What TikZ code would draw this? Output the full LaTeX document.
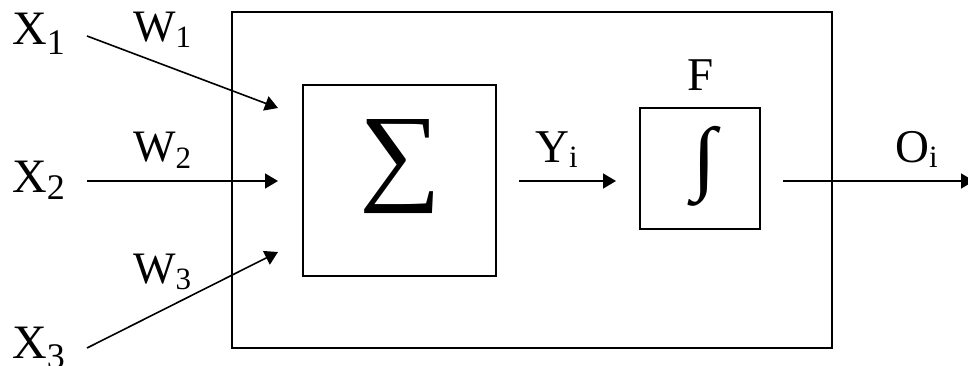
\documentclass[tikz,border=0pt]{standalone}
\usepackage{fontspec}
\setmainfont{Liberation Serif}
\usetikzlibrary{arrows.meta}
\newcommand\mysub[3]{\raisebox{-#1}{\fontsize{#2}{#2}\selectfont #3}}
\begin{document}
\begin{tikzpicture}[x=1pt,y=-1pt,
  frame/.style={draw,line width=2pt,inner sep=0pt},
  conn/.style={line width=1.6pt,-{Triangle[length=13pt,width=15pt]}},
  xlab/.style={anchor=base west,inner sep=0pt,font=\fontsize{48}{48}\selectfont},
  wlab/.style={anchor=base west,inner sep=0pt,font=\fontsize{45}{45}\selectfont},
  ylab/.style={anchor=base west,inner sep=0pt,font=\fontsize{47}{47}\selectfont}]
\useasboundingbox (0,0) rectangle (968,366);
% boxes
\node[frame,minimum width=600pt,minimum height=336pt] (outer) at (532,180) {};
\node[frame,minimum width=193pt,minimum height=191pt] (sum) at (399.5,180.5) {};
\node[frame,minimum width=120pt,minimum height=121pt] (int) at (700,168.5) {};
% symbols
\node[anchor=south west,inner sep=0pt] (sigma) at (359,214) {\resizebox*{82pt}{94pt}{∑}};
\node[anchor=south west,inner sep=0pt] (integ) at (692,207) {\resizebox*{24pt}{80pt}{∫}};
% labels
\node[xlab] (x1) at (12,45) {X\mysub{10pt}{36}{1}};
\node[xlab] (x2) at (12,192) {X\mysub{8pt}{36}{2}};
\node[xlab] (x3) at (12,358) {X\mysub{10pt}{36}{3}};
\node[wlab] (w1) at (133,42) {W\mysub{6pt}{31}{1}};
\node[wlab] (w2) at (133,162) {W\mysub{6pt}{31}{2}};
\node[wlab] (w3) at (133,283) {W\mysub{6pt}{31}{3}};
\node[ylab] (f) at (687,91) {F};
\node[ylab] (y) at (535,163) {Y\mysub{5pt}{31}{i}};
\node[ylab] (o) at (895,163) {O\mysub{5pt}{31}{i}};
% connector end points
\coordinate (a1) at (87,36);
\coordinate (b1) at (278,108);
\coordinate (a2) at (87,181);
\coordinate (b2) at (278,181);
\coordinate (a3) at (87,348);
\coordinate (b3) at (278,252);
\coordinate (ya) at (519,181);
\coordinate (yb) at (616,181);
\coordinate (oa) at (783,181);
\coordinate (ob) at (974,181);
\draw[conn] (a1) -- (b1);
\draw[conn] (a2) -- (b2);
\draw[conn] (a3) -- (b3);
\draw[conn] (ya) -- (yb);
\draw[conn] (oa) -- (ob);
\end{tikzpicture}
\end{document}
